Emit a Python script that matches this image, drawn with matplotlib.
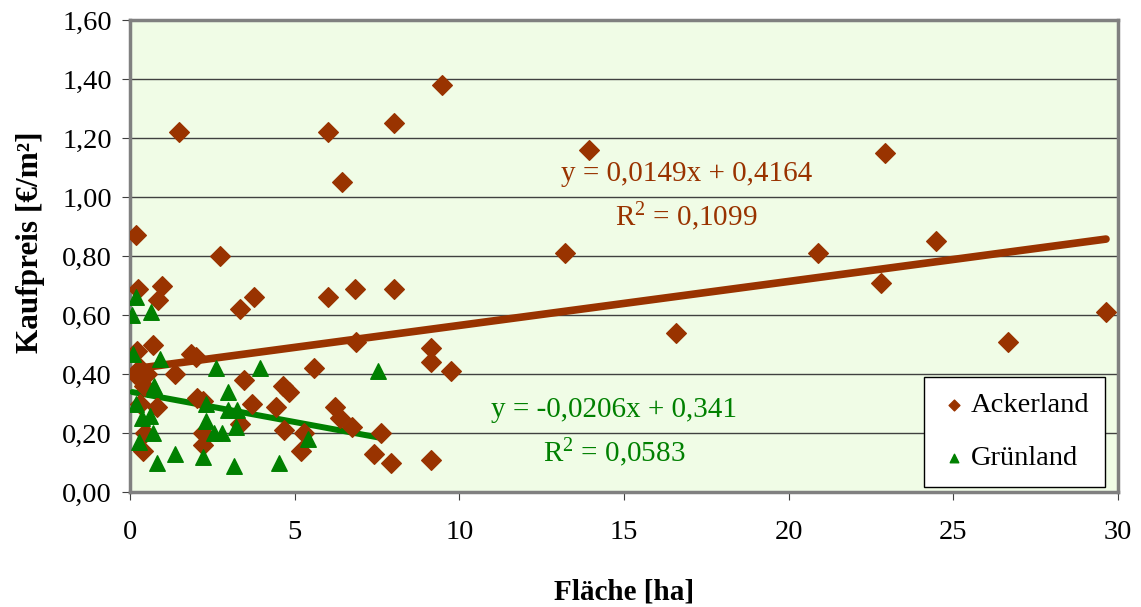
import numpy as np
import matplotlib.pyplot as plt

plt.rcParams['font.family'] = ['Liberation Serif', 'DejaVu Serif']
plt.rcParams['mathtext.fontset'] = 'custom'
plt.rcParams['mathtext.rm'] = 'Liberation Serif'
plt.rcParams['mathtext.it'] = 'Liberation Serif:italic'
plt.rcParams['mathtext.bf'] = 'Liberation Serif:bold'

# Ackerland
acker_x = [1.49, 6.0, 8.0, 9.46, 6.43, 0.17, 2.74, 0.24, 0.97, 0.86, 3.75, 3.33, 6.0,
           6.83, 8.0, 6.86, 9.15, 9.14, 9.73, 0.22, 0.71, 1.84, 2.0, 0.15, 0.5, 0.3,
           1.37, 5.58, 3.47, 0.43, 4.63, 4.83, 2.02, 2.2, 3.7, 4.43, 6.23, 6.38, 6.73,
           0.83, 0.29, 3.33, 4.66, 5.27, 7.62, 2.2, 0.45, 2.2, 0.4, 5.2, 7.42, 7.92,
           9.15, 13.92, 22.91, 13.22, 20.9, 24.47, 22.8, 16.59, 26.65, 29.63]
acker_y = [1.22, 1.22, 1.25, 1.38, 1.05, 0.87, 0.80, 0.69, 0.70, 0.65, 0.66, 0.62, 0.66,
           0.69, 0.69, 0.51, 0.49, 0.44, 0.41, 0.48, 0.50, 0.47, 0.46, 0.40, 0.40, 0.42,
           0.40, 0.42, 0.38, 0.36, 0.36, 0.34, 0.32, 0.31, 0.30, 0.29, 0.29, 0.25, 0.22,
           0.29, 0.30, 0.23, 0.21, 0.20, 0.20, 0.20, 0.20, 0.16, 0.14, 0.14, 0.13, 0.10,
           0.11, 1.16, 1.15, 0.81, 0.81, 0.85, 0.71, 0.54, 0.51, 0.61]

# Grünland
gruen_x = [0.17, 0.07, 0.63, 0.1, 0.9, 2.62, 3.95, 7.52, 0.73, 0.75, 2.96, 0.17, 2.32,
           2.96, 3.26, 0.35, 0.61, 2.32, 3.21, 0.71, 2.55, 2.78, 5.41, 0.27, 1.36, 2.2,
           0.81, 3.16, 4.51]
gruen_y = [0.66, 0.60, 0.61, 0.47, 0.45, 0.42, 0.42, 0.41, 0.36, 0.35, 0.34, 0.30, 0.30,
           0.28, 0.28, 0.25, 0.26, 0.24, 0.22, 0.20, 0.20, 0.20, 0.18, 0.17, 0.13, 0.12,
           0.10, 0.09, 0.10]

acker_fit = (0.0149, 0.4164)
gruen_fit = (-0.0206, 0.341)

brown = '#993300'
green = '#008000'

fig = plt.figure(figsize=(11.41, 6.07), dpi=100)
ax = fig.add_axes([0.114, 0.189, 0.866, 0.778])
ax.set_facecolor('#F0FCE6')

ax.set_xlim(0, 30)
ax.set_ylim(0, 1.6)
ax.set_xticks(np.arange(0, 31, 5))
ax.set_yticks(np.arange(0, 1.61, 0.2))
ax.set_yticklabels([f'{v:.2f}'.replace('.', ',') for v in np.arange(0, 1.61, 0.2)])
ax.yaxis.grid(True, color='#404040', lw=1)
ax.set_axisbelow(True)
ax.tick_params(labelsize=20.5, direction='out', length=6, color='#404040')
ax.tick_params(axis='x', pad=14)
ax.tick_params(axis='y', pad=7)
for s in ax.spines.values():
    s.set_color('#808080')
    s.set_linewidth(2.5)

xa = np.array([min(acker_x), max(acker_x)])
ax.plot(xa, acker_fit[0] * xa + acker_fit[1], color=brown, lw=5.5, solid_capstyle='round', zorder=3)
xg = np.array([min(gruen_x), max(gruen_x)])
ax.plot(xg, gruen_fit[0] * xg + gruen_fit[1], color=green, lw=4.3, solid_capstyle='round', zorder=3)

ax.scatter(acker_x, acker_y, marker='D', s=100, color=brown, label='Ackerland', zorder=4)
ax.scatter(gruen_x, gruen_y, marker='^', s=125, color=green, label='Grünland', zorder=4)

ax.text(16.9, 1.08, 'y = 0,0149x + 0,4164', color=brown, fontsize=21, ha='center', va='center')
ax.text(16.9, 0.935, 'R$^2$ = 0,1099', color=brown, fontsize=21, ha='center', va='center')
ax.text(14.7, 0.278, 'y = -0,0206x + 0,341', color=green, fontsize=21, ha='center', va='center')
ax.text(14.7, 0.133, 'R$^2$ = 0,0583', color=green, fontsize=21, ha='center', va='center')

leg = ax.legend(loc='lower right', bbox_to_anchor=(0.987, 0.011), borderaxespad=0,
                fontsize=20.5, frameon=True, fancybox=False, edgecolor='black', framealpha=1,
                handletextpad=0.1, markerscale=0.55, labelspacing=0.95, borderpad=0.55,
                handlelength=1.0)
leg.get_frame().set_linewidth(1)

ax.set_xlabel('Fläche [ha]', fontsize=21, fontweight='bold', labelpad=24)
ax.set_ylabel('Kaufpreis [€/m²]', fontsize=22.5, fontweight='bold')
ax.yaxis.set_label_coords(-0.086, 0.53)

fig.savefig('out.png', dpi=100)
